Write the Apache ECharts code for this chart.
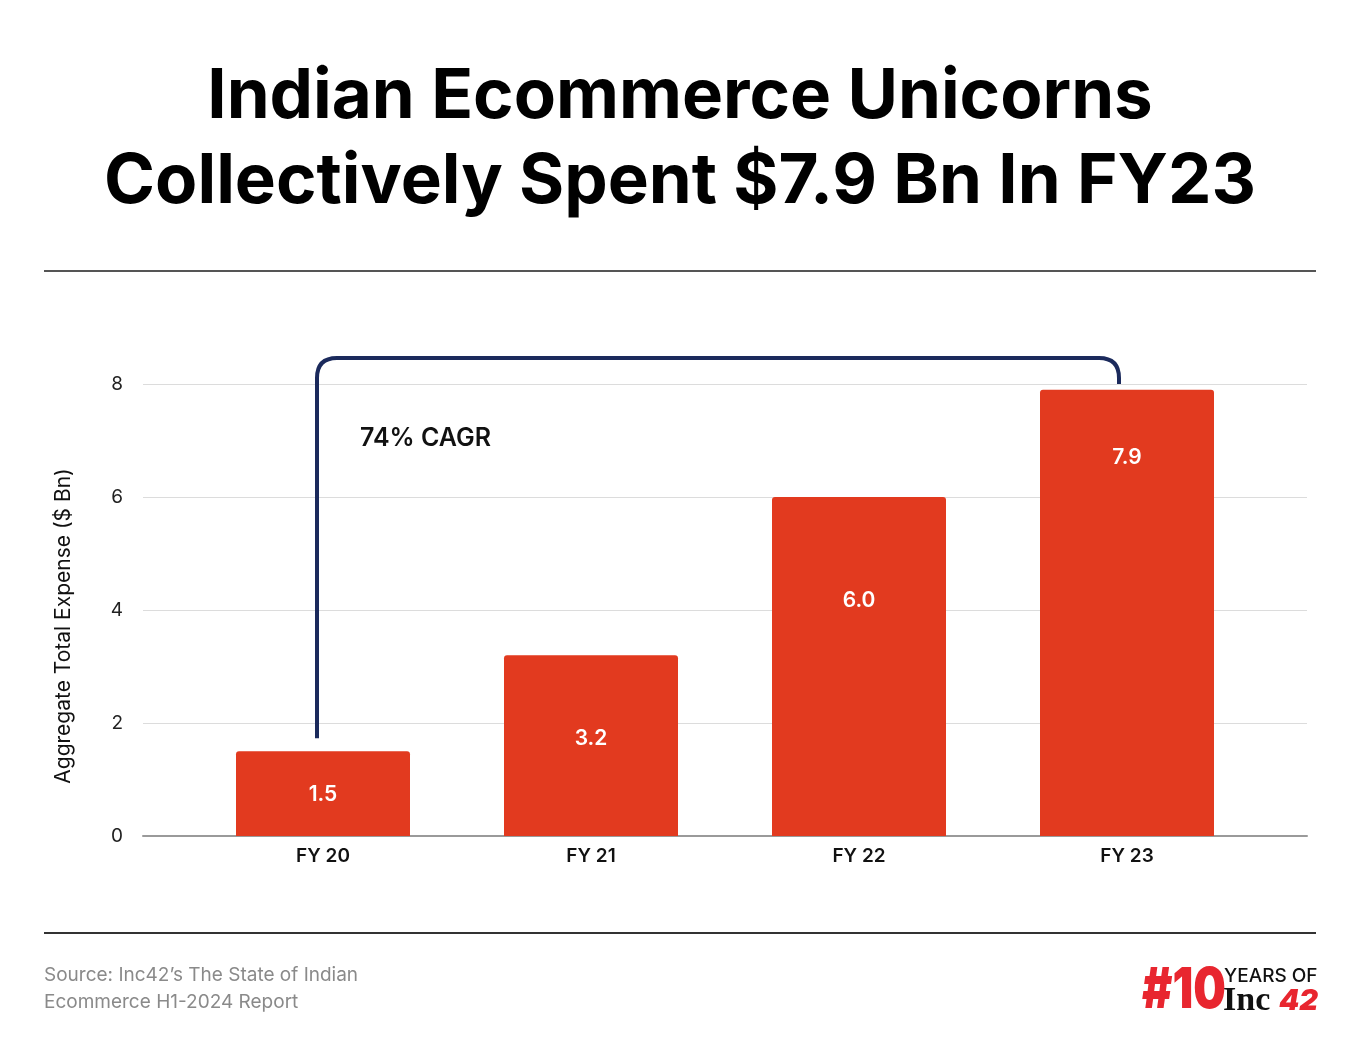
<!DOCTYPE html>
<html>
<head>
<meta charset="utf-8">
<script src="https://cdn.jsdelivr.net/npm/echarts@6/dist/echarts.min.js"></script>
<style>
html,body{margin:0;padding:0;background:#fff;}
#chart{width:1360px;height:1058px;}
</style>
</head>
<body>
<div id="chart"></div>
<script>
const categories = ['FY 20', 'FY 21', 'FY 22', 'FY 23'];
const expenseValues = [1.5, 3.2, 6.0, 7.9];
const yTicks = [0, 2, 4, 6, 8];
const cagrText = '74% CAGR';
const bracketFrom = 0, bracketTo = 3;
const bracketStartY = 1.73, bracketTopY = 8.46, bracketEndY = 8.0;

const FONT = 'Inter, "Noto Sans", sans-serif';
const RED = '#E23A1F';
const NAVY = '#1B2A5C';

// label distances from bar top (layout only)
const labelDist = [33, 73, 93, 58];

const chart = echarts.init(document.getElementById('chart'), null, {renderer: 'canvas'});

const option = {
  backgroundColor: '#fff',
  animation: false,
  title: {
    text: 'Indian Ecommerce Unicorns\nCollectively Spent $7.9 Bn In FY23',
    left: 'center',
    top: 50,
    textStyle: {
      fontFamily: FONT, fontSize: 69, fontWeight: 700, color: '#000',
      lineHeight: 85
    }
  },
  grid: [
    {left: 143, right: 53, top: 384, bottom: 222},
    {left: 189, right: 99, top: 384, bottom: 222}
  ],
  xAxis: [
    {
      gridIndex: 0, type: 'value', min: 0, max: 1,
      axisLine: {show: true, onZero: false, lineStyle: {color: '#9a9a9a', width: 2}},
      axisTick: {show: false}, axisLabel: {show: false}, splitLine: {show: false}
    },
    {
      gridIndex: 1, type: 'category', data: categories,
      axisLine: {show: false}, axisTick: {show: false},
      axisLabel: {margin: 11, fontFamily: FONT, fontSize: 19, fontWeight: 600, color: '#111'}
    }
  ],
  yAxis: [
    {
      gridIndex: 0, type: 'value', min: yTicks[0], max: yTicks[yTicks.length - 1], interval: 2,
      axisLine: {show: false}, axisTick: {show: false},
      axisLabel: {margin: 20, fontFamily: FONT, fontSize: 19, color: '#222'},
      splitLine: {lineStyle: {color: '#dcdcdc', width: 1}}
    },
    {
      gridIndex: 1, type: 'value', min: yTicks[0], max: yTicks[yTicks.length - 1], interval: 2,
      show: false, splitLine: {show: false}
    }
  ],
  series: [
    {
      type: 'bar',
      xAxisIndex: 1, yAxisIndex: 1,
      barWidth: 174,
      data: expenseValues.map((v, i) => ({
        value: v,
        label: {distance: labelDist[i]}
      })),
      itemStyle: {color: RED, borderRadius: [3, 3, 0, 0]},
      label: {
        show: true, position: 'insideTop',
        formatter: p => p.value.toFixed(1),
        fontFamily: FONT, fontSize: 21, fontWeight: 600, color: '#fff'
      }
    },
    {
      type: 'custom',
      xAxisIndex: 1, yAxisIndex: 1,
      clip: false,
      silent: true,
      data: [[bracketFrom, bracketTopY]],
      renderItem: function (params, api) {
        const a = api.coord([bracketFrom, bracketStartY]);
        const t1 = api.coord([bracketFrom, bracketTopY]);
        const b = api.coord([bracketTo, bracketEndY]);
        const x0 = a[0] - 6, x1 = b[0] - 8;
        const y0 = a[1], yt = t1[1], y1 = b[1];
        const r = 20;
        const d = 'M' + x0 + ' ' + y0 +
          ' L' + x0 + ' ' + (yt + r) +
          ' Q' + x0 + ' ' + yt + ' ' + (x0 + r) + ' ' + yt +
          ' L' + (x1 - r) + ' ' + yt +
          ' Q' + x1 + ' ' + yt + ' ' + x1 + ' ' + (yt + r) +
          ' L' + x1 + ' ' + y1;
        return {
          type: 'group',
          children: [
            {
              type: 'path',
              shape: {pathData: d},
              style: {fill: null, stroke: NAVY, lineWidth: 4}
            },
            {
              type: 'text',
              x: x0 + 43, y: yt + 80,
              style: {
                text: cagrText, fill: '#111', fontFamily: FONT,
                fontSize: 25, fontWeight: 600, textVerticalAlign: 'middle'
              }
            }
          ]
        };
      }
    }
  ],
  graphic: [
    {type: 'rect', shape: {x: 44, y: 270, width: 1272, height: 2}, style: {fill: '#555'}},
    {type: 'rect', shape: {x: 44, y: 932, width: 1272, height: 2}, style: {fill: '#333'}},
    {
      type: 'text', x: 64, y: 626, rotation: Math.PI / 2,
      style: {text: 'Aggregate Total Expense ($ Bn)', fontFamily: FONT, fontSize: 21,
        fill: '#111', textAlign: 'center', textVerticalAlign: 'middle'}
    },
    {
      type: 'text', x: 44, y: 975,
      style: {text: "Source: Inc42’s The State of Indian", fontFamily: FONT, fontSize: 19,
        fill: '#8a8a8a', textVerticalAlign: 'middle'}
    },
    {
      type: 'text', x: 44, y: 1002,
      style: {text: 'Ecommerce H1-2024 Report', fontFamily: FONT, fontSize: 19,
        fill: '#8a8a8a', textVerticalAlign: 'middle'}
    },
    {
      type: 'text', x: 1142, y: 991, scaleX: 0.82,
      style: {text: '#10', fontFamily: 'Inter, sans-serif', fontSize: 56, fontWeight: 900,
        fill: '#E8262F', textVerticalAlign: 'middle'}
    },
    {
      type: 'text', x: 1224, y: 976,
      style: {text: 'YEARS OF', fontFamily: FONT, fontSize: 19, fontWeight: 500,
        fill: '#111', textVerticalAlign: 'middle'}
    },
    {
      type: 'text', x: 1223, y: 1001,
      style: {text: 'Inc', fontFamily: '"Liberation Serif", serif', fontSize: 34, fontWeight: 700,
        fill: '#111', textVerticalAlign: 'middle'}
    },
    {
      type: 'text', x: 1279, y: 1001,
      style: {text: '42', fontFamily: 'Inter, sans-serif', fontSize: 29, fontWeight: 900,
        fontStyle: 'italic', fill: '#E8262F', textVerticalAlign: 'middle'}
    }
  ]
};

chart.setOption(option);
</script>
</body>
</html>
